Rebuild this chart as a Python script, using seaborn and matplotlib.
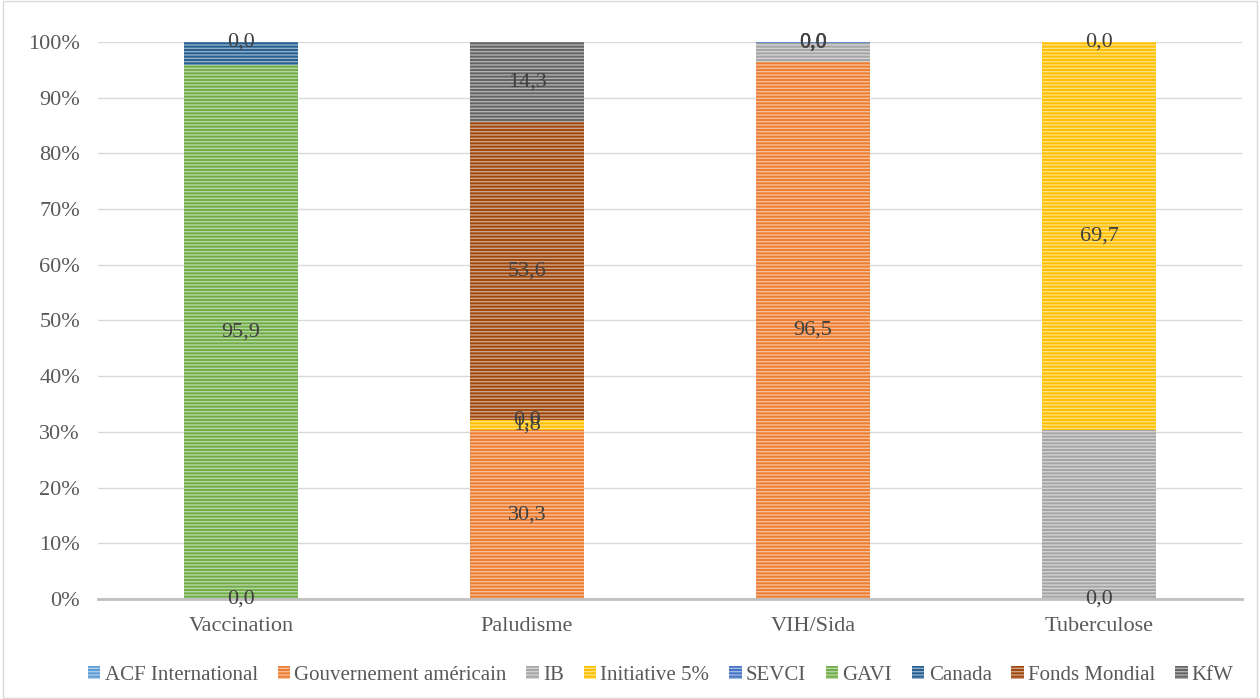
import numpy as np
import matplotlib.pyplot as plt
import seaborn as sns
from matplotlib.patches import Rectangle

categories = ['Vaccination', 'Paludisme', 'VIH/Sida', 'Tuberculose']
series = ['ACF International', 'Gouvernement américain', 'IB', 'Initiative 5%',
          'SEVCI', 'GAVI', 'Canada', 'Fonds Mondial', 'KfW']
colors = ['#5B9BD5', '#ED7D31', '#A5A5A5', '#FFC000', '#4472C4',
          '#70AD47', '#255E91', '#9E480E', '#636363']

# share (%) per category, nan = no value
acf = [0.0, np.nan, np.nan, 0.0]
gouv = [np.nan, 30.3, 96.5, np.nan]
ib = [np.nan, np.nan, 3.3, 30.3]
init5 = [np.nan, 1.8, 0.0, 69.7]
sevci = [np.nan, np.nan, 0.2, np.nan]
gavi = [95.9, 0.0, 0.0, np.nan]
canada = [4.1, np.nan, np.nan, np.nan]
fonds = [0.0, 53.6, 0.0, 0.0]
kfw = [np.nan, 14.3, np.nan, np.nan]
values = [acf, gouv, ib, init5, sevci, gavi, canada, fonds, kfw]
labelled = [True, True, False, True, False, True, False, True, True]

sns.set_theme(style='white')
plt.rcParams['font.family'] = ['Liberation Serif', 'DejaVu Serif']
plt.rcParams['hatch.linewidth'] = 1.0

fig = plt.figure(figsize=(12.6, 6.99), dpi=100)
ax = fig.add_axes([0.0778, 0.1431, 0.9079, 0.7968])

bottom = np.zeros(len(categories))
for name, vals, col, lab in zip(series, values, colors, labelled):
    v = np.array(vals, dtype=float)
    h = np.nan_to_num(v)
    sns.barplot(x=categories, y=h, bottom=bottom, color=col, saturation=1,
                width=0.4, hatch='-----', edgecolor=(1, 1, 1, 0.5),
                linewidth=0, label=name, ax=ax)
    if lab:
        texts = ['' if np.isnan(x) else f'{x:.1f}'.replace('.', ',') for x in v]
        ax.bar_label(ax.containers[-1], labels=texts, label_type='center',
                     fontsize=16, color='#404040')
    bottom = bottom + h

ax.set_xlim(-0.5, 3.5)
ax.set_ylim(0, 100)
ax.set_yticks(range(0, 101, 10))
ax.set_yticklabels([f'{t}%' for t in range(0, 101, 10)])
ax.yaxis.grid(True, color='#D9D9D9', linewidth=1)
ax.set_axisbelow(True)
for s in ['top', 'right', 'left']:
    ax.spines[s].set_visible(False)
ax.spines['bottom'].set_color('#BFBFBF')
ax.spines['bottom'].set_linewidth(2)
ax.tick_params(axis='both', length=0, labelsize=16, labelcolor='#595959')
ax.tick_params(axis='x', pad=13)
ax.tick_params(axis='y', pad=13)

ax.legend(loc='center', bbox_to_anchor=(0.492, -0.137), ncol=9, frameon=False,
          fontsize=15, handlelength=0.6, handleheight=0.6, handletextpad=0.2,
          columnspacing=0.95, labelcolor='#595959', borderaxespad=0)

fig.patches.append(Rectangle((0.002, 0.002), 0.996, 0.996, transform=fig.transFigure,
                             fill=False, edgecolor='#D9D9D9', linewidth=1))

fig.savefig('out.png', dpi=100)
